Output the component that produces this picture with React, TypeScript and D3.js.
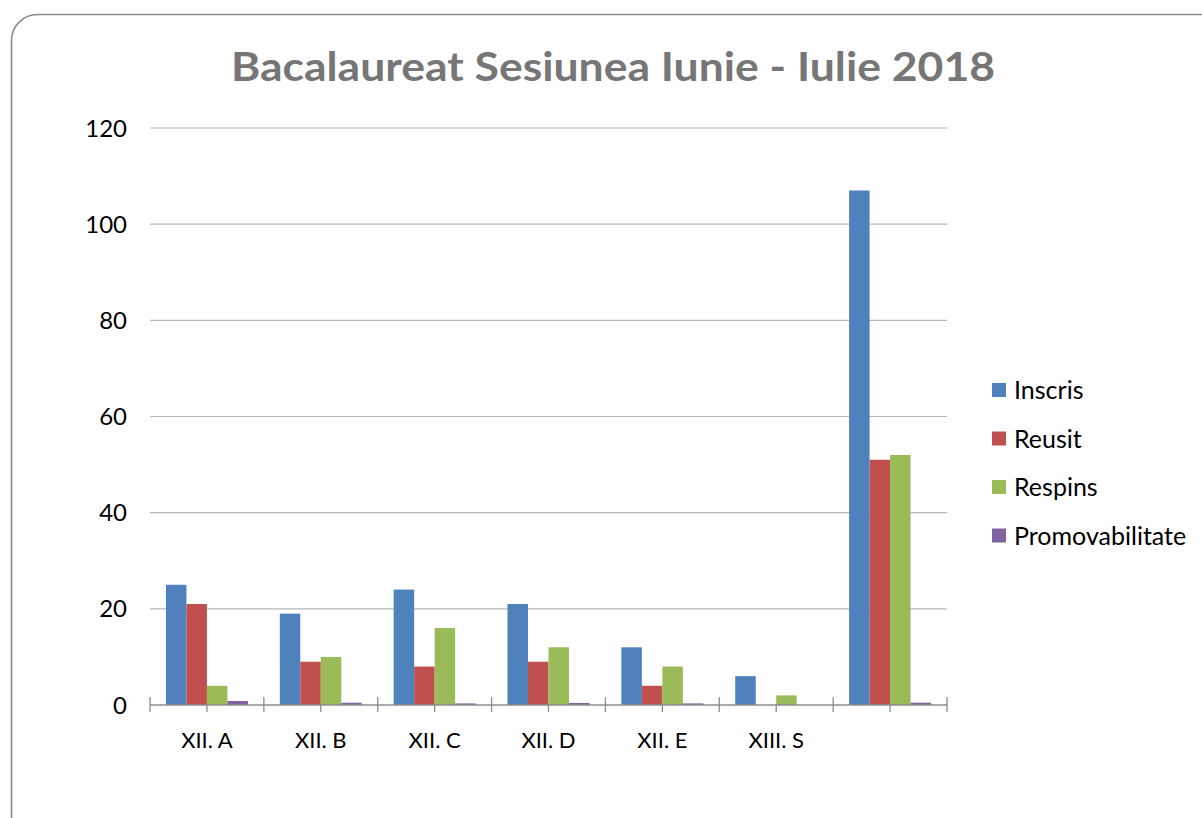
import { useEffect, useRef } from "react";
import * as d3 from "d3";

const categories = ["XII. A", "XII. B", "XII. C", "XII. D", "XII. E", "XIII. S", ""];
const seriesNames = ["Inscris", "Reusit", "Respins", "Promovabilitate"];
const inscris = [25, 19, 24, 21, 12, 6, 107];
const reusit = [21, 9, 8, 9, 4, 0, 51];
const respins = [4, 10, 16, 12, 8, 2, 52];
const promovabilitate = [0.84, 0.47, 0.33, 0.43, 0.33, 0, 0.48];
const yTicks = [0, 20, 40, 60, 80, 100, 120];
const colors = ["#4F81BD", "#C0504D", "#9BBB59", "#8064A2"];

const WIDTH = 1202;
const HEIGHT = 818;
const FONT = "Lato, 'Open Sans', sans-serif";

export default function App() {
  const ref = useRef<SVGSVGElement>(null);

  useEffect(() => {
    if (!ref.current) return;
    const svg = d3.select(ref.current);
    svg.selectAll("*").remove();

    const values = [inscris, reusit, respins, promovabilitate];
    const plot = { left: 150, right: 947, top: 128, bottom: 705 };

    // frame
    svg
      .append("rect")
      .attr("x", 11.5)
      .attr("y", 14.5)
      .attr("width", 1220)
      .attr("height", 840)
      .attr("rx", 26)
      .attr("fill", "#fff")
      .attr("stroke", "#8a8a8a")
      .attr("stroke-width", 1.6);

    svg
      .append("text")
      .attr("x", 613)
      .attr("y", 81)
      .attr("text-anchor", "middle")
      .attr("font-family", FONT)
      .attr("font-weight", "bold")
      .attr("font-size", 41)
      .attr("fill", "#767676")
      .attr("textLength", 764)
      .attr("lengthAdjust", "spacingAndGlyphs")
      .text("Bacalaureat Sesiunea Iunie - Iulie 2018");

    const x = d3.scaleBand().domain(categories).range([plot.left, plot.right]);
    const bw = x.bandwidth();
    const xs = d3.scaleBand().domain(seriesNames).range([bw * 0.14, bw * 0.86]);
    const y = d3.scaleLinear().domain([0, 120]).range([plot.bottom, plot.top]);

    // gridlines
    svg
      .append("g")
      .selectAll("line")
      .data(yTicks.filter((t) => t > 0))
      .enter()
      .append("line")
      .attr("x1", plot.left)
      .attr("x2", plot.right)
      .attr("y1", (d) => y(d))
      .attr("y2", (d) => y(d))
      .attr("stroke", "#b8b8b8")
      .attr("stroke-width", 1.2);

    // y labels
    svg
      .append("g")
      .selectAll("text")
      .data(yTicks)
      .enter()
      .append("text")
      .attr("x", 127)
      .attr("y", (d) => y(d))
      .attr("dy", "0.36em")
      .attr("text-anchor", "end")
      .attr("font-family", FONT)
      .attr("font-size", 24)
      .attr("fill", "#000")
      .text((d) => d);

    // bars
    seriesNames.forEach((name, si) => {
      svg
        .append("g")
        .selectAll("rect")
        .data(values[si])
        .enter()
        .append("rect")
        .attr("x", (_, i) => x(categories[i])! + xs(name)!)
        .attr("y", (d) => y(d))
        .attr("width", xs.bandwidth())
        .attr("height", (d) => plot.bottom - y(d))
        .attr("fill", colors[si]);
    });

    // x axis line and ticks
    const axis = svg.append("g").attr("stroke", "#8c8c8c").attr("stroke-width", 1.3);
    axis
      .append("line")
      .attr("x1", plot.left)
      .attr("x2", plot.right)
      .attr("y1", plot.bottom)
      .attr("y2", plot.bottom);
    const bounds = categories.map((c) => x(c)!).concat([plot.right]);
    axis
      .selectAll(".major")
      .data(bounds)
      .enter()
      .append("line")
      .attr("x1", (d) => d)
      .attr("x2", (d) => d)
      .attr("y1", plot.bottom - 8)
      .attr("y2", plot.bottom + 7);
    axis
      .selectAll(".minor")
      .data(categories)
      .enter()
      .append("line")
      .attr("x1", (d) => x(d)! + bw / 2)
      .attr("x2", (d) => x(d)! + bw / 2)
      .attr("y1", plot.bottom)
      .attr("y2", plot.bottom + 7);

    // category labels
    svg
      .append("g")
      .selectAll("text")
      .data(categories)
      .enter()
      .append("text")
      .attr("x", (d) => x(d)! + bw / 2)
      .attr("y", 748)
      .attr("text-anchor", "middle")
      .attr("font-family", FONT)
      .attr("font-size", 22)
      .attr("fill", "#000")
      .text((d) => d);

    // legend
    const legend = svg.append("g").attr("transform", "translate(992, 390)");
    seriesNames.forEach((name, i) => {
      const row = legend.append("g").attr("transform", `translate(0, ${i * 48.5})`);
      row.append("rect").attr("x", 0).attr("y", -7).attr("width", 14).attr("height", 14).attr("fill", colors[i]);
      row
        .append("text")
        .attr("x", 22)
        .attr("y", 0)
        .attr("dy", "0.36em")
        .attr("font-family", FONT)
        .attr("font-size", 25)
        .attr("fill", "#000")
        .text(name);
    });
  }, []);

  return (
    <svg
      ref={ref}
      width={WIDTH}
      height={HEIGHT}
      style={{ position: "absolute", left: 0, top: 0, background: "#fff" }}
    />
  );
}
